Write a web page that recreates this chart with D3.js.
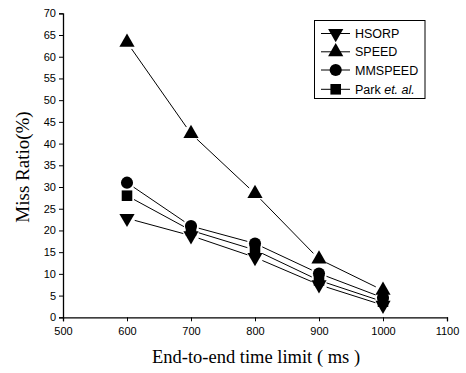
<!DOCTYPE html>
<html><head><meta charset="utf-8">
<script src="https://cdn.jsdelivr.net/npm/d3@7"></script>
<style>body{margin:0;background:#fff}svg{display:block}</style>
</head><body>
<svg id="c" width="466" height="373"></svg>
<script>
const xValues = [600, 700, 800, 900, 1000];
const hsorp   = [22.8, 18.8, 13.8, 7.5, 2.8];
const speed   = [63.3, 42.3, 28.5, 13.4, 6.2];
const mmspeed = [31.0, 21.0, 17.0, 10.1, 4.5];
const park    = [28.0, 20.0, 15.5, 8.5, 3.6];
const seriesNames = ["HSORP", "SPEED", "MMSPEED", "Park"];
const xTicks = [500, 600, 700, 800, 900, 1000, 1100];
const yTicks = [0,5,10,15,20,25,30,35,40,45,50,55,60,65,70];

const svg = d3.select("#c");
const x = d3.scaleLinear().domain([500, 1100]).range([63, 447]);
const y = d3.scaleLinear().domain([0, 70]).range([317.3, 13.3]);

const sans = "'Liberation Sans', Arial, sans-serif";
const serif = "'Liberation Serif', 'Times New Roman', serif";

const xa = svg.append("g").attr("transform", `translate(0,${y(0)})`)
  .call(d3.axisBottom(x).tickValues(xTicks).tickSize(4).tickPadding(6).tickFormat(d3.format("d")));
const ya = svg.append("g").attr("transform", `translate(${x(500)},0)`)
  .call(d3.axisLeft(y).tickValues(yTicks).tickSize(4).tickPadding(3).tickFormat(d3.format("d")));
[xa, ya].forEach(a => {
  a.selectAll("text").attr("font-family", sans).attr("font-size", 11).attr("fill", "#000");
  a.selectAll("line").attr("stroke", "#000");
  a.select(".domain").attr("stroke", "#000").attr("stroke-width", 1.3);
});

svg.append("text").attr("x", 256).attr("y", 363).attr("text-anchor", "middle")
  .attr("font-family", serif).attr("font-size", 18.5).text("End-to-end time limit ( ms )");
svg.append("text").attr("transform", "translate(29,167) rotate(-90)").attr("text-anchor", "middle")
  .attr("font-family", serif).attr("font-size", 19).text("Miss Ratio(%)");

const symbols = {
  HSORP:   {type: d3.symbolTriangle, size: 100, rot: 180},
  SPEED:   {type: d3.symbolTriangle, size: 100, rot: 0},
  MMSPEED: {type: d3.symbolCircle, size: 115, rot: 0},
  Park:    {type: d3.symbolSquare, size: 112, rot: 0}
};
const data = {HSORP: hsorp, SPEED: speed, MMSPEED: mmspeed, Park: park};

function drawMarker(g, name, cx, cy) {
  const s = symbols[name];
  g.append("path").attr("d", d3.symbol().type(s.type).size(s.size)())
    .attr("transform", `translate(${cx},${cy}) rotate(${s.rot})`).attr("fill", "#000");
}

const gap = 8;
seriesNames.forEach(name => {
  const vals = data[name];
  const g = svg.append("g");
  for (let i = 0; i < vals.length - 1; i++) {
    const x1 = x(xValues[i]), y1 = y(vals[i]), x2 = x(xValues[i+1]), y2 = y(vals[i+1]);
    const len = Math.hypot(x2 - x1, y2 - y1), ux = (x2 - x1) / len, uy = (y2 - y1) / len;
    g.append("line").attr("x1", x1 + ux*gap).attr("y1", y1 + uy*gap)
      .attr("x2", x2 - ux*gap).attr("y2", y2 - uy*gap).attr("stroke", "#000").attr("stroke-width", 1);
  }
  vals.forEach((v, i) => drawMarker(g, name, x(xValues[i]), y(v)));
});

// legend
const lg = svg.append("g");
lg.append("rect").attr("x", 314.5).attr("y", 20.5).attr("width", 110.5).attr("height", 78)
  .attr("fill", "#fff").attr("stroke", "#000").attr("stroke-width", 1);
const rows = [33.5, 51.8, 70, 89.3];
seriesNames.forEach((name, i) => {
  lg.append("line").attr("x1", 321).attr("x2", 350).attr("y1", rows[i]).attr("y2", rows[i]).attr("stroke", "#000");
  drawMarker(lg, name, 335.7, rows[i]);
  const t = lg.append("text").attr("x", 355).attr("y", rows[i] + 4.5)
    .attr("font-family", sans).attr("font-size", 12.5);
  if (name === "Park") {
    t.append("tspan").text("Park ");
    t.append("tspan").attr("font-style", "italic").text("et. al.");
  } else t.text(name);
});
</script>
</body></html>
